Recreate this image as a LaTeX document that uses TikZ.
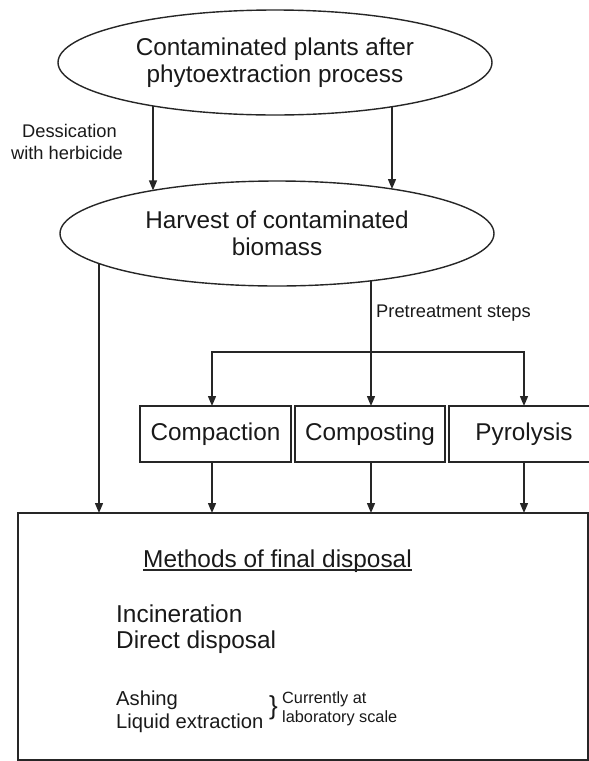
\documentclass[tikz,border=0pt]{standalone}
\usepackage{fontspec}
\setmainfont{Liberation Sans}
\usetikzlibrary{shapes.geometric,arrows.meta}
\begin{document}
\begin{tikzpicture}[x=1pt,y=-1pt,
  ln/.style={draw=black!85, line width=1.4pt},
  arr/.style={ln, -{Triangle[length=10pt,width=8pt]}},
  oval/.style={ellipse, draw=black!85, line width=1.4pt, minimum width=434pt,
    minimum height=105pt, inner sep=0pt, outer sep=0pt, align=center,
    font=\fontsize{24.3}{27}\selectfont, text=black!90},
  stepbox/.style={rectangle, draw=black!85, line width=1.4pt, minimum width=150pt,
    minimum height=56pt, inner sep=0pt, outer sep=0pt,
    font=\fontsize{24.3}{29}\selectfont, text=black!90},
  bigtxt/.style={anchor=base west, inner sep=0pt, text=black!90,
    font=\fontsize{24.4}{28}\selectfont},
  midtxt/.style={inner sep=0pt, text=black!90, font=\fontsize{20.2}{23}\selectfont},
  smalltxt/.style={inner sep=0pt, text=black!90, font=\fontsize{18.3}{22}\selectfont},
  tinytxt/.style={inner sep=0pt, text=black!90, font=\fontsize{16.3}{19}\selectfont}
]
\useasboundingbox (0,0) rectangle (589,761);

% ellipses
\node[oval] (e1) at (275,62.5) {Contaminated plants after\\phytoextraction process};
\node[oval] (e2) at (277,233.5) {Harvest of contaminated\\biomass};

% pretreatment boxes
\node[stepbox, minimum width=151pt] (cpa) at (215.5,434) {Compaction};
\node[stepbox] (cmp) at (370,434) {Composting};
\node[stepbox] (pyr) at (524,434) {Pyrolysis};

% final box
\node[rectangle, draw=black!85, line width=1.4pt, minimum width=570pt,
  minimum height=247pt, inner sep=0pt, outer sep=0pt] (big) at (303,636.5) {};

% points on the ellipse borders
\coordinate (e1a) at (153,105.9);
\coordinate (e1b) at (392,106.7);
\coordinate (e2a) at (153,190.4);
\coordinate (e2b) at (392,189.0);
\coordinate (e2c) at (99,263.5);
\coordinate (e2d) at (371,280.8);

% split coordinates
\coordinate (s1) at (212,352);
\coordinate (s2) at (371,352);
\coordinate (s3) at (524,352);

% top arrows
\draw[arr] (e1a) -- (e2a);
\draw[arr] (e1b) -- (e2b);
\node[smalltxt, anchor=base] (des1) at (69.5,137) {Dessication};
\node[smalltxt, anchor=base] (des2) at (67,159) {with herbicide};

% left direct line
\draw[arr] (e2c) -- (e2c |- big.north);

% center line and split
\draw[arr] (e2d) -- (s2 |- cmp.north);
\draw[arr] (s2) -| (s1 |- cpa.north);
\draw[arr] (s2) -| (s3 |- pyr.north);
\node[smalltxt, anchor=base west] (pre) at (376,317) {Pretreatment steps};

% boxes to final box
\draw[arr] (s1 |- cpa.south) -- (s1 |- big.north);
\draw[arr] (s2 |- cmp.south) -- (s2 |- big.north);
\draw[arr] (s3 |- pyr.south) -- (s3 |- big.north);

% final box content
\node[bigtxt] (title) at (143,567) {Methods of final disposal};
\draw[ln] ([yshift=-3pt]title.base west) -- ([yshift=-3pt]title.base east);
\node[bigtxt] (inc) at (116,622) {Incineration};
\node[bigtxt] (dd) at (116,648) {Direct disposal};
\node[midtxt, anchor=base west] (ash) at (116,705) {Ashing};
\node[midtxt, anchor=base west] (liq) at (116,728) {Liquid extraction};
\node[inner sep=0pt, text=black!90, font=\fontsize{26}{28}\selectfont] (brace) at (273.5,707.5) {\}};
\node[tinytxt, anchor=base west] (cur1) at (282,703) {Currently at};
\node[tinytxt, anchor=base west] (cur2) at (282,722) {laboratory scale};
\end{tikzpicture}
\end{document}
